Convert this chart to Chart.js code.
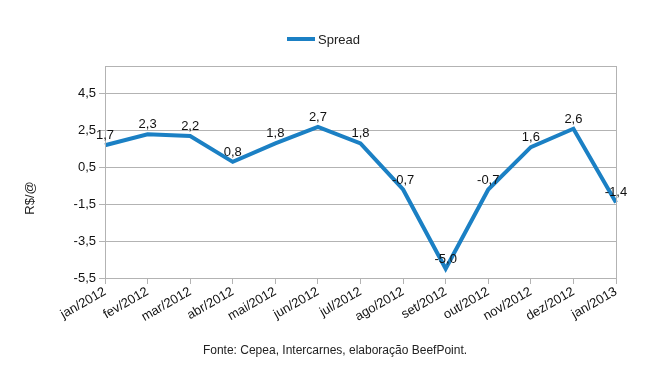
<!DOCTYPE html>
<html><head><meta charset="utf-8">
<script src="https://cdn.jsdelivr.net/npm/chart.js@4/dist/chart.umd.min.js"></script>
<style>html,body{margin:0;padding:0;background:#fff}#wrap{width:647px;height:378px}</style>
</head><body><div id="wrap"><canvas id="c" width="647" height="378"></canvas></div>
<script>
const categories = ["jan/2012","fev/2012","mar/2012","abr/2012","mai/2012","jun/2012","jul/2012","ago/2012","set/2012","out/2012","nov/2012","dez/2012","jan/2013"];
const spread = [1.7, 2.3, 2.2, 0.8, 1.8, 2.7, 1.8, -0.7, -5.0, -0.7, 1.6, 2.6, -1.4];
const yTicks = [-5.5, -3.5, -1.5, 0.5, 2.5, 4.5];
const seriesName = "Spread";
const yTitle = "R$/@";
const footer = "Fonte: Cepea, Intercarnes, elaboração BeefPoint.";
const LINE = "#1b80c4";
const FONT = "'Liberation Sans', Arial, sans-serif";
const fmt = v => v.toFixed(1).replace('.', ',');

const extras = {
  id: 'extras',
  afterDraw(chart) {
    const ctx = chart.ctx, a = chart.chartArea;
    ctx.save();
    ctx.strokeStyle = '#b3b3b3'; ctx.lineWidth = 1;
    ctx.strokeRect(Math.round(a.left)+0.5, Math.round(a.top)+0.5, Math.round(a.right-a.left), Math.round(a.bottom-a.top));
    // legend
    ctx.strokeStyle = LINE; ctx.lineWidth = 4;
    ctx.beginPath(); ctx.moveTo(287, 39); ctx.lineTo(315, 39); ctx.stroke();
    ctx.fillStyle = '#222'; ctx.font = '13px ' + FONT; ctx.textBaseline = 'middle'; ctx.textAlign = 'left';
    ctx.fillText(seriesName, 318, 40);
    // y title
    ctx.save(); ctx.translate(30, 198); ctx.rotate(-Math.PI/2);
    ctx.textAlign = 'center'; ctx.font = '13px ' + FONT; ctx.fillText(yTitle, 0, 0); ctx.restore();
    // footer
    ctx.textAlign = 'center'; ctx.font = '12px ' + FONT;
    ctx.fillText(footer, 335, 351);
    // data labels
    const meta = chart.getDatasetMeta(0);
    ctx.font = '13px ' + FONT; ctx.textBaseline = 'alphabetic'; ctx.fillStyle = '#111'; ctx.textAlign = 'center';
    meta.data.forEach((pt, i) => {
      ctx.fillText(fmt(spread[i]), pt.x, pt.y - 6);
    });
    ctx.restore();
  }
};

new Chart(document.getElementById('c'), {
  type: 'line',
  data: { labels: categories, datasets: [{ label: seriesName, data: spread, borderColor: LINE, borderWidth: 4, pointRadius: 0, tension: 0, fill: false }] },
  options: {
    responsive: false, animation: false,
    layout: { padding: { top: 66, right: 31, bottom: 40, left: 0 } },
    plugins: { legend: { display: false }, tooltip: { enabled: false }, title: { display: false } },
    scales: {
      x: {
        offset: false,
        grid: { drawOnChartArea: false, color: '#b3b3b3', tickLength: 6 },
        border: { color: '#b3b3b3' },
        ticks: { minRotation: 30, maxRotation: 30, color: '#111', font: { family: FONT, size: 13 }, padding: 0, autoSkip: false },
        afterFit(s) { s.height = 60; }
      },
      y: {
        min: -5.5, max: 6,
        afterBuildTicks(s) { s.ticks = yTicks.map(v => ({ value: v })); },
        grid: { color: '#b3b3b3', tickLength: 6 },
        border: { color: '#b3b3b3' },
        ticks: { color: '#111', font: { family: FONT, size: 13 }, padding: 3, callback: v => fmt(v) },
        afterFit(s) { s.width = 105; }
      }
    }
  },
  plugins: [extras]
});
</script></body></html>
